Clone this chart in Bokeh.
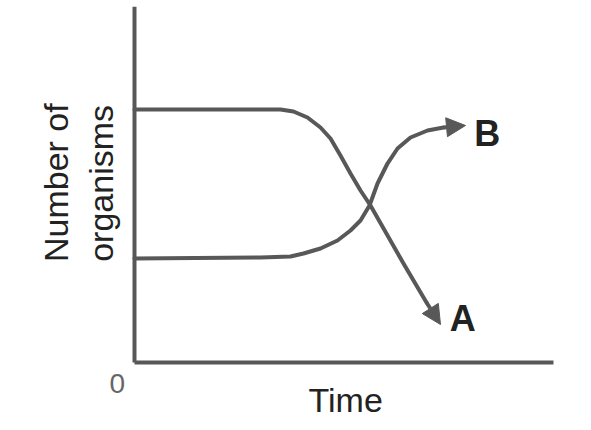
import math
from bokeh.plotting import figure
from bokeh.models import Arrow, NormalHead, Label, Range1d
from bokeh.embed import file_html
from bokeh.resources import INLINE

# Series (time units 0..10, organism count units 0..10)
time_a = [0.0, 3.007, 3.484, 3.795, 4.129, 4.439, 4.678, 4.916, 5.155, 5.394, 5.632, 6.42, 6.969]
count_a = [7.147, 7.147, 7.147, 7.090, 6.921, 6.638, 6.328, 5.847, 5.339, 4.859, 4.435, 2.797, 1.695]
tip_a = (7.303, 1.073)

time_b = [0.0, 3.007, 3.723, 4.033, 4.439, 4.845, 5.155, 5.394, 5.609, 5.800, 6.038, 6.277,
          6.587, 6.993, 7.375]
count_b = [2.938, 2.966, 2.994, 3.079, 3.220, 3.446, 3.729, 4.011, 4.435, 5.056, 5.621, 6.045,
           6.356, 6.554, 6.638]
tip_b = (7.90, 6.695)

series_names = ["A", "B"]
x_label = "Time"
y_label_lines = ["Number of", "organisms"]
origin_label = "0"
x_axis_extent = (0, 10)
y_axis_extent = (0, 10.05)

LINE = "#585858"
TEXT = "#222222"
FONT = "Liberation Sans"

p = figure(width=591, height=430, output_backend="svg", toolbar_location=None,
           x_range=Range1d(-3.198, 10.907), y_range=Range1d(-1.921, 10.226),
           x_axis_location=None, y_axis_location=None,
           min_border_left=0, min_border_right=0, min_border_top=0, min_border_bottom=0)
p.outline_line_color = None
p.grid.visible = False
p.background_fill_color = "white"
p.border_fill_color = "white"

# axes
p.line([x_axis_extent[0], x_axis_extent[1]], [0, 0], line_color=LINE, line_width=4)
p.line([0, 0], [y_axis_extent[0], y_axis_extent[1]], line_color=LINE, line_width=4)

p.line(time_a, count_a, line_color=LINE, line_width=4, line_join="round", line_cap="round")
p.line(time_b, count_b, line_color=LINE, line_width=4, line_join="round", line_cap="round")

for (xs, ys, tip) in ((time_a, count_a, tip_a), (time_b, count_b, tip_b)):
    p.add_layout(Arrow(end=NormalHead(size=19, fill_color=LINE, line_color=LINE, line_width=1),
                       x_start=xs[-1], y_start=ys[-1], x_end=tip[0], y_end=tip[1],
                       line_color=LINE, line_width=4))

p.add_layout(Label(x=tip_a[0] + 0.53, y=tip_a[1] + 0.17, text=series_names[0], text_font=FONT,
                   text_font_size="36px", text_font_style="bold", text_color=TEXT,
                   text_align="center", text_baseline="middle"))
p.add_layout(Label(x=tip_b[0] + 0.52, y=tip_b[1] - 0.23, text=series_names[1], text_font=FONT,
                   text_font_size="36px", text_font_style="bold", text_color=TEXT,
                   text_align="center", text_baseline="middle"))

p.add_layout(Label(x=-0.41, y=-0.59, text=origin_label, text_font=FONT, text_font_size="28px",
                   text_color="#666666", text_align="center", text_baseline="middle"))
p.add_layout(Label(x=5.04, y=-1.05, text=x_label, text_font=FONT, text_font_size="34px",
                   text_color=TEXT, text_align="center", text_baseline="middle"))
p.add_layout(Label(x=-1.885, y=5.08, text=y_label_lines[0], text_font=FONT, text_font_size="34px",
                   text_color=TEXT, text_align="center", text_baseline="middle", angle=math.pi / 2))
p.add_layout(Label(x=-0.81, y=5.06, text=y_label_lines[1], text_font=FONT, text_font_size="34px",
                   text_color=TEXT, text_align="center", text_baseline="middle", angle=math.pi / 2))

open("out.html", "w").write(file_html(p, INLINE))
